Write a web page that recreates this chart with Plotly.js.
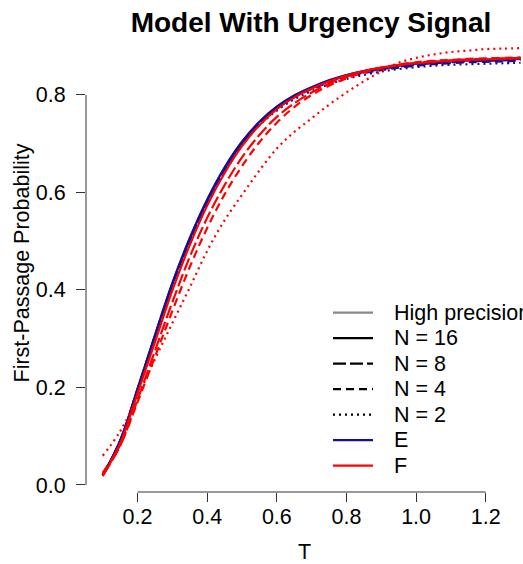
<!DOCTYPE html>
<html>
<head>
<meta charset="utf-8">
<script src="https://cdn.plot.ly/plotly-3.0.1.min.js"></script>
<style>html,body{margin:0;padding:0;background:#fff;}</style>
</head>
<body>
<div id="chart" style="width:523px;height:564px;"></div>
<script>
// Time grid (T)
var T = [0.1, 0.15, 0.2, 0.25, 0.3, 0.35, 0.4, 0.45, 0.5, 0.55, 0.6, 0.65, 0.7, 0.75, 0.8, 0.85, 0.9, 0.95, 1.0, 1.05, 1.1, 1.15, 1.2, 1.25, 1.3];

// High precision reference
var highPrecision = [0.020, 0.091, 0.197, 0.307, 0.414, 0.506, 0.585, 0.651, 0.704, 0.745, 0.776, 0.799, 0.816, 0.830, 0.841, 0.849, 0.855, 0.860, 0.864, 0.867, 0.869, 0.871, 0.872, 0.873, 0.874];

// Method E
var E16 = [0.020, 0.091, 0.197, 0.307, 0.414, 0.506, 0.585, 0.651, 0.704, 0.745, 0.776, 0.799, 0.816, 0.830, 0.841, 0.849, 0.855, 0.860, 0.864, 0.867, 0.869, 0.871, 0.872, 0.873, 0.874];
var E8  = [0.020, 0.090, 0.196, 0.306, 0.412, 0.504, 0.583, 0.649, 0.702, 0.743, 0.774, 0.797, 0.814, 0.828, 0.839, 0.847, 0.853, 0.858, 0.862, 0.865, 0.867, 0.869, 0.870, 0.871, 0.872];
var E4  = [0.020, 0.090, 0.195, 0.305, 0.411, 0.502, 0.581, 0.647, 0.700, 0.741, 0.772, 0.795, 0.812, 0.826, 0.837, 0.845, 0.851, 0.856, 0.860, 0.863, 0.865, 0.867, 0.868, 0.869, 0.870];
var E2  = [0.020, 0.090, 0.195, 0.304, 0.410, 0.500, 0.579, 0.644, 0.697, 0.738, 0.768, 0.791, 0.808, 0.822, 0.833, 0.841, 0.848, 0.853, 0.857, 0.860, 0.862, 0.863, 0.864, 0.865, 0.866];

// Method F
var F16 = [0.018, 0.085, 0.188, 0.293, 0.399, 0.492, 0.573, 0.640, 0.695, 0.738, 0.771, 0.795, 0.813, 0.828, 0.840, 0.849, 0.856, 0.861, 0.865, 0.868, 0.870, 0.872, 0.873, 0.874, 0.875];
var F8  = [0.020, 0.080, 0.175, 0.275, 0.375, 0.468, 0.548, 0.615, 0.672, 0.718, 0.755, 0.783, 0.805, 0.823, 0.837, 0.848, 0.856, 0.862, 0.866, 0.869, 0.871, 0.873, 0.874, 0.875, 0.876];
var F4  = [0.025, 0.082, 0.170, 0.263, 0.357, 0.447, 0.527, 0.596, 0.654, 0.703, 0.743, 0.775, 0.800, 0.819, 0.834, 0.846, 0.855, 0.862, 0.867, 0.870, 0.872, 0.874, 0.875, 0.876, 0.877];
var F2  = [0.060, 0.110, 0.180, 0.258, 0.332, 0.405, 0.480, 0.543, 0.595, 0.645, 0.690, 0.724, 0.752, 0.780, 0.805, 0.828, 0.848, 0.866, 0.876, 0.883, 0.888, 0.891, 0.894, 0.895, 0.896];

var xTicks = [0.2, 0.4, 0.6, 0.8, 1.0, 1.2];
var xTickText = ["0.2", "0.4", "0.6", "0.8", "1.0", "1.2"];
var yTicks = [0.0, 0.2, 0.4, 0.6, 0.8];
var yTickText = ["0.0", "0.2", "0.4", "0.6", "0.8"];

var legendNames = ["High precision", "N = 16", "N = 8", "N = 4", "N = 2", "E", "F"];

var BLUE = "#10109a", RED = "#ff0000", GRAY = "#888888", BLACK = "#000000";
var LW = 2.2;
var DASH = {s: "solid", ld: "13px,4px", d: "8px,5px", dot: "2px,4px"};
var legendColors = [GRAY, BLACK, BLACK, BLACK, BLACK, BLUE, RED];
var legendDashes = [DASH.s, DASH.s, DASH.ld, DASH.d, DASH.dot, DASH.s, DASH.s];

function curve(name, y, color, dash) {
  return {x: T, y: y, name: name, type: "scatter", mode: "lines", showlegend: false, hoverinfo: "skip",
          line: {color: color, width: LW, dash: dash, shape: "spline", smoothing: 1}};
}

var traces = [
  curve("High precision", highPrecision, GRAY, DASH.s),
  curve("E, N = 16", E16, BLUE, DASH.s),
  curve("E, N = 8", E8, BLUE, DASH.ld),
  curve("E, N = 4", E4, BLUE, DASH.d),
  curve("E, N = 2", E2, BLUE, DASH.dot),
  curve("F, N = 16", F16, RED, DASH.s),
  curve("F, N = 8", F8, RED, DASH.ld),
  curve("F, N = 4", F4, RED, DASH.d),
  curve("F, N = 2", F2, RED, DASH.dot)
];

var FONT = "Liberation Sans, Arial, Helvetica, sans-serif";
var AX = "#333333";
var FS = 21.5;

// plot area in pixels: x 86..523, y 34..492
var PL = 86, PW = 437, PT = 34, PH = 458;
function px2x(p) { return (p - PL) / PW; }
function px2y(p) { return (PT + PH - p) / PH; }

var shapes = [
  {type: "line", xref: "x", yref: "paper", x0: xTicks[0], x1: xTicks[xTicks.length - 1], y0: 0, y1: 0, line: {color: AX, width: 1}},
  {type: "line", xref: "paper", yref: "y", x0: 0, x1: 0, y0: yTicks[0], y1: yTicks[yTicks.length - 1], line: {color: AX, width: 1}}
];
var annotations = [];
var rowTop = 312.7, rowGap = 25.5;
for (var i = 0; i < legendNames.length; i++) {
  var yy = px2y(rowTop + i * rowGap);
  shapes.push({type: "line", xref: "paper", yref: "paper", x0: px2x(333), x1: px2x(373), y0: yy, y1: yy,
               line: {color: legendColors[i], width: LW, dash: legendDashes[i]}});
  annotations.push({xref: "paper", yref: "paper", x: px2x(392), y: yy, xanchor: "left", yanchor: "middle",
                    text: legendNames[i], showarrow: false, font: {family: FONT, size: FS, color: "#000"}});
}

var layout = {
  width: 523, height: 564,
  margin: {l: PL, r: 0, t: PT, b: 564 - PT - PH, pad: 0},
  paper_bgcolor: "#ffffff", plot_bgcolor: "#ffffff",
  font: {family: FONT, size: FS, color: "#000000"},
  showlegend: false,
  title: {text: "Model With Urgency Signal", font: {family: FONT, size: 28, color: "#000000", weight: "bold"},
          x: 311 / 523, xref: "container", xanchor: "center", y: 1 - 22 / 564, yref: "container", yanchor: "middle"},
  xaxis: {range: [0.052, 1.307], tickvals: xTicks, ticktext: xTickText, ticks: "outside", ticklen: 9,
          tickcolor: AX, tickwidth: 1, showline: false, showgrid: false, zeroline: false,
          tickfont: {family: FONT, size: FS}, ticklabelstandoff: -4,
          title: {text: "T", font: {family: FONT, size: FS}, standoff: 22}, automargin: false, fixedrange: true},
  yaxis: {range: [-0.0144, 0.925], tickvals: yTicks, ticktext: yTickText, ticks: "outside", ticklen: 9,
          tickcolor: AX, tickwidth: 1, showline: false, showgrid: false, zeroline: false,
          tickfont: {family: FONT, size: FS}, ticklabelstandoff: 6,
          title: {text: "First-Passage Probability", font: {family: FONT, size: FS}, standoff: 0}, automargin: false, fixedrange: true},
  shapes: shapes,
  annotations: annotations
};

Plotly.newPlot("chart", traces, layout, {staticPlot: true, displayModeBar: false});
</script>
</body>
</html>
